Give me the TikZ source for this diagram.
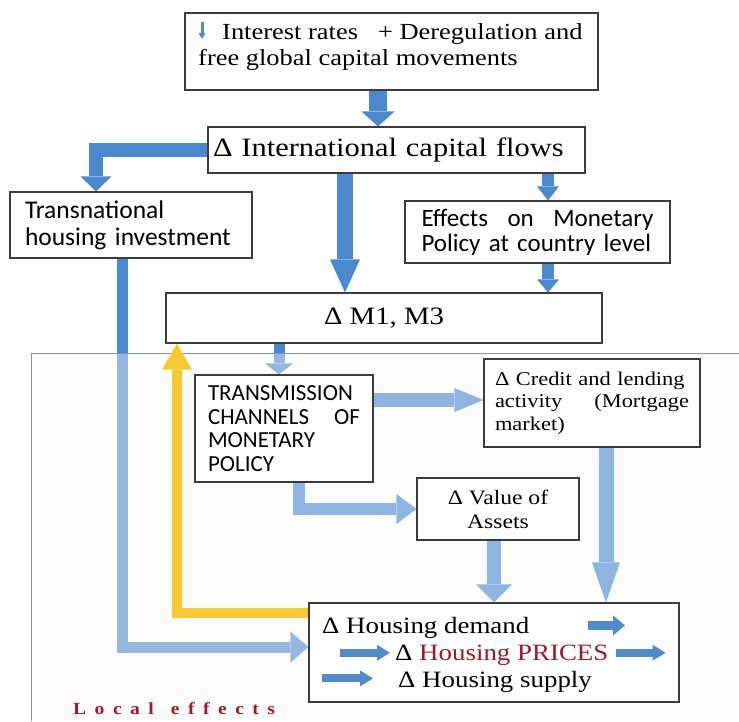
\documentclass[tikz,border=0pt]{standalone}
\usepackage{fontspec}
\setmainfont{Liberation Serif}
\newfontfamily\wideserif[FakeStretch=1.15]{Liberation Serif}
\newfontfamily\calib{Carlito}
\usetikzlibrary{arrows.meta,calc}

\definecolor{flowdark}{RGB}{75,137,206}
\definecolor{flowlight}{RGB}{141,181,226}
\definecolor{flowmid}{RGB}{80,140,205}
\definecolor{feedback}{RGB}{250,200,50}
\definecolor{localbg}{RGB}{250,252,249}
\definecolor{localedge}{RGB}{120,150,180}
\definecolor{pricered}{RGB}{160,25,40}
\definecolor{boxedge}{RGB}{60,60,60}

\pgfdeclarelayer{panel}
\pgfdeclarelayer{under}
\pgfdeclarelayer{veil}
\pgfdeclarelayer{over}
\pgfsetlayers{panel,under,veil,over,main}

\newcommand{\lgap}{\hspace{8.5pt}}

\tikzset{
  box/.style={draw=boxedge, line width=1.1pt, fill=white, rectangle, inner sep=0pt},
  fat/.style args={#1/#2/#3}{line width=#1pt, line join=miter,
    -{Triangle[width=#2pt,length=#3pt,line width=0pt]}},
  flowd/.style={draw=flowdark},
  flowl/.style={draw=flowlight},
  flowm/.style={draw=flowmid},
  fb/.style={draw=feedback},
  serifbig/.style={font=\wideserif\fontsize{23}{26}\selectfont},
}

\begin{document}
\begin{tikzpicture}[x=1pt,y=-1pt]
\useasboundingbox (0,0) rectangle (739,721);

% local effects panel
\begin{pgfonlayer}{panel}
  \fill[localbg] (31,353) rectangle (739,721);
\end{pgfonlayer}
\begin{pgfonlayer}{veil}
  \fill[white, fill opacity=0.4] (31,353) rectangle (739,721);
  \draw[localedge, line width=0.8pt] (31,721) -- (31,353) -- (739,353);
\end{pgfonlayer}

% boxes
\node[box, minimum width=413pt, minimum height=77pt] (top) at (391.5,51.5) {};
\node[anchor=west, inner sep=0pt, align=left, serifbig] (toptext) at (198,47)
  {\hspace*{24pt}Interest rates\hspace{20pt}+ Deregulation and\\free global capital movements};

\node[box, minimum width=377pt, minimum height=46pt, text width=367pt, inner xsep=5pt,
      align=left, font=\wideserif\fontsize{26.5}{28}\selectfont] (intl) at (396.5,150)
  {Δ International capital flows};

\node[box, minimum width=242pt, minimum height=66pt, text width=212pt, align=left,
      font=\calib\fontsize{25.5}{27}\selectfont] (transnat) at (131,225)
  {Transnational\\housing investment};

\node[box, minimum width=265pt, minimum height=62pt, text width=232pt, align=left,
      font=\calib\fontsize{25}{25}\selectfont] (effects) at (537.5,232)
  {Effects\hfill on\hfill Monetary\\Policy at country level};

\node[box, minimum width=436pt, minimum height=50pt,
      font=\wideserif\fontsize{25}{27}\selectfont] (m1) at (384,318)
  {Δ M1, M3};

\node[box, minimum width=178pt, minimum height=107pt, text width=152pt, align=left,
      font=\calib\fontsize{23}{23.5}\selectfont] (trans) at (284,428.5)
  {TRANSMISSION\\CHANNELS\hfill OF\\MONETARY\\POLICY};

\node[box, minimum width=216pt, minimum height=88pt, text width=194pt, align=left,
      font=\wideserif\fontsize{19.5}{22.5}\selectfont] (credit) at (592,403)
  {Δ Credit and lending\\activity\hfill(Mortgage\\market)};

\node[box, minimum width=162pt, minimum height=62pt, align=center,
      font=\wideserif\fontsize{20.5}{24}\selectfont] (value) at (498,509)
  {Δ Value of\\Assets};

\node[box, minimum width=370pt, minimum height=99pt] (housing) at (494,652.5) {};
\node[anchor=base west, inner sep=0pt, font=\wideserif\fontsize{23.4}{26}\selectfont]
  (demand) at (322,633) {Δ Housing demand};
\node[anchor=base west, inner sep=0pt, font=\wideserif\fontsize{23.4}{26}\selectfont]
  (prices) at (395,660) {Δ \textcolor{pricered}{Housing PRICES}};
\node[anchor=base west, inner sep=0pt, font=\wideserif\fontsize{23.4}{26}\selectfont]
  (supply) at (398,687) {Δ Housing supply};

\node[anchor=base west, inner sep=0pt, text=pricered,
      font=\wideserif\bfseries\fontsize{17}{17}\selectfont] (local) at (73,714)
  {L\lgap o\lgap c\lgap a\lgap l\hspace{17pt}e\lgap f\lgap f\lgap e\lgap c\lgap t\lgap s};

% falling-rate glyph
\draw[flowm, line width=3pt, -{Triangle[width=7pt,length=6pt,line width=0pt]}] (202,22) -- (202,39);

% anchor points for the connectors
\coordinate (a1) at ($(top.south)+(-13.5,0)$);
\coordinate (a2) at ($(intl.south)+(-51.5,0)$);
\coordinate (a3) at ($(effects.north)+(10.5,0)$);
\coordinate (a6) at ($(m1.south)+(-105,0)$);
\coordinate (a7) at ($(trans.east)+(0,-28.5)$);
\coordinate (a9) at ($(value.south)+(-4,0)$);
\coordinate (a10) at ($(credit.south)+(14,0)$);

% global flows
\begin{pgfonlayer}{under}
  \draw[flowd, fat=18/33/15] (a1) -- (a1 |- intl.north);
  \draw[flowd, fat=16/30/33] (a2) -- (a2 |- m1.north);
  \draw[flowd, fat=12/22/14] (a3 |- intl.south) -- (a3);
  \draw[flowd, fat=12/22/13] (effects.south -| a3) -- (m1.north -| a3);
  \draw[flowd, fat=14/31/15] (intl.west) -| ($(transnat.north)+(-35,0)$);
  \draw[flowd, fat=11/28/11] (a6) -- (a6 |- trans.north);
  \draw[flowd, fat=11/31/18] ($(transnat.south)+(-9,0)$) |- ($(housing.west)+(0,-5.5)$);
\end{pgfonlayer}

% local transmission
\begin{pgfonlayer}{over}
  \draw[flowl, fat=14/24/29] (a7) -- (a7 -| credit.west);
  \draw[flowl, fat=12/30/20] ($(trans.south)+(15,0)$) |- (value.west);
  \draw[flowl, fat=14/36/18] (a9) -- (a9 |- housing.north);
  \draw[flowl, fat=15/28/40] (a10) -- (a10 |- housing.north);
  \draw[fb, fat=10/30/26] ($(housing.west)+(0,-39.5)$) -| ($(m1.south)+(-207,0)$);
\end{pgfonlayer}

% arrows inside the housing box
\coordinate (d1) at ($(demand.west)+(266,-2)$);
\coordinate (d2) at ($(demand.west)+(303,-2)$);
\coordinate (p1) at ($(prices.west)+(-55,-2)$);
\coordinate (p2) at ($(prices.east)+(7,-2)$);
\coordinate (p3) at ($(prices.east)+(57,-2)$);
\coordinate (s1) at ($(supply.west)+(-76,-3)$);
\coordinate (s2) at ($(supply.west)+(-25,-3)$);
\draw[flowm, fat=9/20/12] (d1) -- (d2);
\draw[flowm, fat=8/16/13] (p1) -- ($(prices.west)+(-5,-2)$);
\draw[flowm, fat=8/16/13] (p2) -- (p3);
\draw[flowm, fat=8/16/13] (s1) -- (s2);
\end{tikzpicture}
\end{document}
